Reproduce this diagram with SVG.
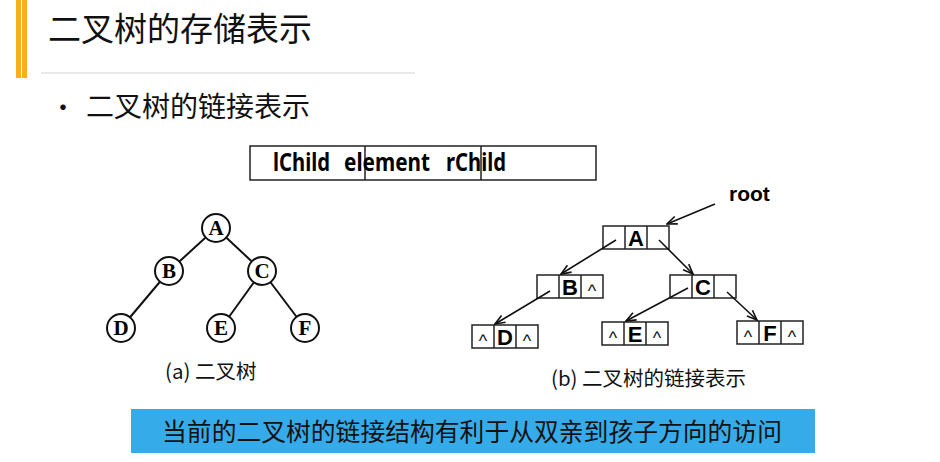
<svg xmlns="http://www.w3.org/2000/svg" width="940" height="462" viewBox="0 0 940 462">
<style>
.cjk{font-family:"Noto Sans CJK SC","Noto Sans",sans-serif;fill:#111}
.edge{stroke:#111;stroke-width:2;fill:none}
.circ{fill:#fff;stroke:#111;stroke-width:2}
.clab{font-family:"Liberation Serif",serif;font-weight:bold;font-size:21px;text-anchor:middle;fill:#000}
.cell{fill:#fff;stroke:#222;stroke-width:1.5}
.nlab{font-family:"Liberation Sans",sans-serif;font-weight:bold;font-size:22px;text-anchor:middle;fill:#000}
.nul{font-family:"Liberation Sans",sans-serif;font-size:18px;text-anchor:middle;fill:#111}
.ptr{stroke:#111;stroke-width:1.6;fill:none;marker-end:url(#ah)}
</style>
<defs>
<marker id="ah" viewBox="0 0 12 10" refX="11" refY="5" markerWidth="12" markerHeight="10" markerUnits="userSpaceOnUse" orient="auto">
<path d="M1,1 L11,5 L1,9" fill="none" stroke="#111" stroke-width="1.6"/>
</marker>
</defs>
<rect width="940" height="462" fill="#fff"/>
<g id="header">
<rect x="16" y="0" width="5" height="78" fill="#F9AE1E"/>
<rect x="22" y="0" width="5" height="78" fill="#F9AE1E"/>
<text class="cjk" x="48" y="41" font-size="33">二叉树的存储表示</text>
<line x1="41" y1="73" x2="415" y2="73" stroke="#e2e2e2" stroke-width="1.5"/>
<text class="cjk" x="50" y="117" font-size="26">•</text>
<text class="cjk" x="86" y="117" font-size="28">二叉树的链接表示</text>
</g>
<g id="struct">
<rect x="250" y="146" width="346" height="34" fill="#fff" stroke="#222" stroke-width="1.5"/>
<line x1="365" y1="146" x2="365" y2="180" stroke="#222" stroke-width="1.5"/>
<line x1="481" y1="146" x2="481" y2="180" stroke="#222" stroke-width="1.5"/>
<text y="171" font-family="Noto Sans,sans-serif" font-weight="bold" font-size="25" fill="#000"><tspan x="273" textLength="57" lengthAdjust="spacingAndGlyphs">lChild</tspan> <tspan x="344" textLength="86" lengthAdjust="spacingAndGlyphs">element</tspan> <tspan x="446" textLength="60" lengthAdjust="spacingAndGlyphs">rChild</tspan></text>
</g>
<g id="tree-edges">
<line class="edge" x1="216" y1="228" x2="169" y2="271"/>
<line class="edge" x1="216" y1="228" x2="262" y2="271"/>
<line class="edge" x1="169" y1="271" x2="121" y2="328"/>
<line class="edge" x1="262" y1="271" x2="221" y2="328"/>
<line class="edge" x1="262" y1="271" x2="305" y2="328"/>
</g>
<g id="tA"><circle class="circ" cx="216" cy="228" r="14"/><text class="clab" x="216" y="235">A</text></g>
<g id="tB"><circle class="circ" cx="169" cy="271" r="14"/><text class="clab" x="169" y="278">B</text></g>
<g id="tC"><circle class="circ" cx="262" cy="271" r="14"/><text class="clab" x="262" y="278">C</text></g>
<g id="tD"><circle class="circ" cx="121" cy="328" r="14"/><text class="clab" x="121" y="335">D</text></g>
<g id="tE"><circle class="circ" cx="221" cy="328" r="14"/><text class="clab" x="221" y="335">E</text></g>
<g id="tF"><circle class="circ" cx="305" cy="328" r="14"/><text class="clab" x="305" y="335">F</text></g>
<text class="cjk" x="165" y="379" font-size="20.5">(a) 二叉树</text>
<g id="nA">
<rect class="cell" x="603" y="226" width="66" height="23"/>
<line class="cell" x1="625" y1="226" x2="625" y2="249"/><line class="cell" x1="647" y1="226" x2="647" y2="249"/>
<text class="nlab" x="636" y="245.5">A</text>
</g>
<g id="nB">
<rect class="cell" x="537" y="275" width="66" height="23"/>
<line class="cell" x1="559" y1="275" x2="559" y2="298"/><line class="cell" x1="581" y1="275" x2="581" y2="298"/>
<text class="nlab" x="570" y="294.5">B</text>
<text class="nul" x="592" y="297">^</text>
</g>
<g id="nC">
<rect class="cell" x="670" y="275" width="66" height="23"/>
<line class="cell" x1="692" y1="275" x2="692" y2="298"/><line class="cell" x1="714" y1="275" x2="714" y2="298"/>
<text class="nlab" x="703" y="294.5">C</text>
</g>
<g id="nD">
<rect class="cell" x="472" y="325" width="66" height="23"/>
<line class="cell" x1="494" y1="325" x2="494" y2="348"/><line class="cell" x1="516" y1="325" x2="516" y2="348"/>
<text class="nul" x="483" y="347">^</text>
<text class="nlab" x="505" y="344.5">D</text>
<text class="nul" x="527" y="347">^</text>
</g>
<g id="nE">
<rect class="cell" x="602" y="322" width="66" height="23"/>
<line class="cell" x1="624" y1="322" x2="624" y2="345"/><line class="cell" x1="646" y1="322" x2="646" y2="345"/>
<text class="nul" x="613" y="344">^</text>
<text class="nlab" x="635" y="341.5">E</text>
<text class="nul" x="657" y="344">^</text>
</g>
<g id="nF">
<rect class="cell" x="737" y="321" width="66" height="23"/>
<line class="cell" x1="759" y1="321" x2="759" y2="344"/><line class="cell" x1="781" y1="321" x2="781" y2="344"/>
<text class="nul" x="748" y="343">^</text>
<text class="nlab" x="770" y="340.5">F</text>
<text class="nul" x="792" y="343">^</text>
</g>
<text x="729" y="201" font-family="Liberation Sans,sans-serif" font-weight="bold" font-size="21" fill="#000">root</text>
<g id="pointers">
<line class="ptr" x1="715" y1="204" x2="667" y2="224"/>
<line class="ptr" x1="616" y1="240" x2="561" y2="274"/>
<line class="ptr" x1="659" y1="240" x2="693" y2="274"/>
<line class="ptr" x1="550" y1="291" x2="495" y2="324"/>
<line class="ptr" x1="688" y1="288" x2="626" y2="321"/>
<line class="ptr" x1="727" y1="292" x2="757" y2="320"/>
</g>
<text class="cjk" x="551" y="386" font-size="20.5">(b) 二叉树的链接表示</text>
<g id="banner">
<rect x="131" y="409" width="684" height="44" fill="#36ABEA"/>
<text class="cjk" x="472" y="441" font-size="24.8" text-anchor="middle">当前的二叉树的链接结构有利于从双亲到孩子方向的访问</text>
</g>
</svg>
